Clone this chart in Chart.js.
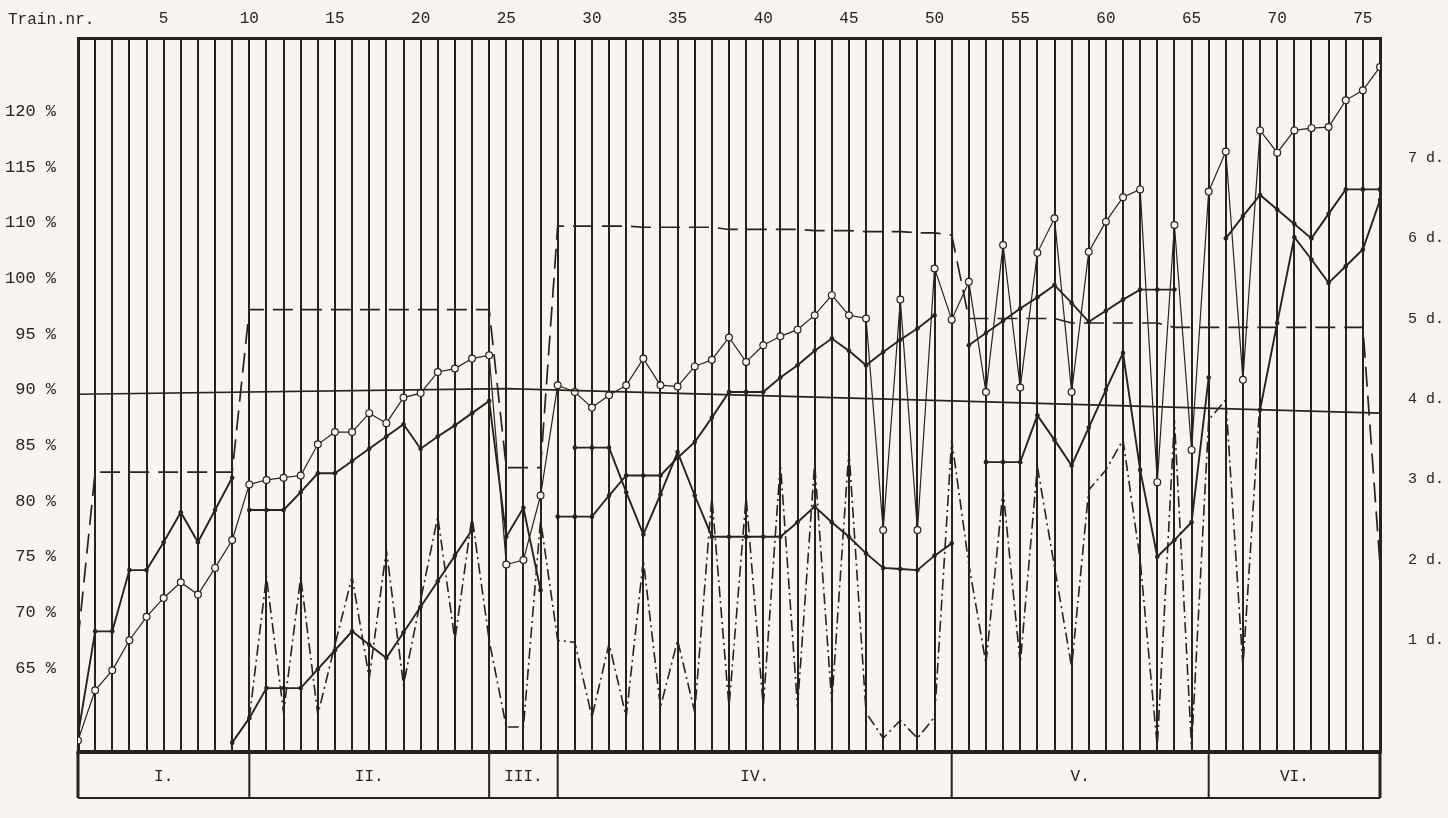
<!DOCTYPE html>
<html>
<head>
<meta charset="utf-8">
<script src="https://cdn.jsdelivr.net/npm/chart.js@4.4.1/dist/chart.umd.min.js"></script>
<style>
  html, body { margin: 0; padding: 0; background: #f8f5f0; }
  #wrap { width: 1448px; height: 818px; }
</style>
</head>
<body>
<div id="wrap"><canvas id="chart" width="1448" height="818"></canvas></div>
<script>
const INK = "#2a211c";
const FONT = "'Liberation Mono', 'DejaVu Sans Mono', monospace";

// left axis: tick positions and the printed labels (the scale jumps 100 -> 110)
const pctTicks = [65, 70, 75, 80, 85, 90, 95, 100, 105, 110, 115];
const pctLabels = ["65 %", "70 %", "75 %", "80 %", "85 %", "90 %", "95 %", "100 %", "110 %", "115 %", "120 %"];
// right axis: days
const dayTicks = [1, 2, 3, 4, 5, 6, 7];

// sections drawn under the grid
const sectionBounds = [0, 10, 24, 28, 51, 66, 76];
const sectionNames = ["I.", "II.", "III.", "IV.", "V.", "VI."];

// the 90 % reference line
const refTrains = [0, 25, 51, 76];
const refValues = [89.6, 90.1, 89.0, 87.9];

// one value per train nr. 0..76, null = no mark
// long dashed line
const targetLine = [
    67.5, 82.6, 82.6, 82.6, 82.6, 82.6, 82.6, 82.6, 82.6, 82.6,
    97.2, 97.2, 97.2, 97.2, 97.2, 97.2, 97.2, 97.2, 97.2, 97.2,
    97.2, 97.2, 97.2, 97.2, 97.2, 83.0, 83.0, 83.0, 104.7, 104.7,
    104.7, 104.7, 104.7, 104.6, 104.6, 104.6, 104.6, 104.6, 104.4, 104.4,
    104.4, 104.4, 104.4, 104.3, 104.3, 104.3, 104.2, 104.2, 104.2, 104.1,
    104.1, 103.9, 96.4, 96.4, 96.4, 96.4, 96.4, 96.4, 96.0, 96.0,
    96.0, 96.0, 96.0, 96.0, 95.6, 95.6, 95.6, 95.6, 95.6, 95.6,
    95.6, 95.6, 95.6, 95.6, 95.6, 95.6, 74.3,
];

// line with open circles
const circleLine = [
    58.5, 63.0, 64.8, 67.5, 69.6, 71.3, 72.7, 71.6, 74.0, 76.5,
    81.5, 81.9, 82.1, 82.3, 85.1, 86.2, 86.2, 87.9, 87.0, 89.3,
    89.7, 91.6, 91.9, 92.8, 93.1, 74.3, 74.7, 80.5, 90.4, 89.8,
    88.4, 89.5, 90.4, 92.8, 90.4, 90.3, 92.1, 92.7, 94.7, 92.5,
    94.0, 94.8, 95.4, 96.7, 98.5, 96.7, 96.4, 77.4, 98.1, 77.4,
    100.9, 96.3, 99.7, 89.8, 103.0, 90.2, 102.3, 105.4, 89.8, 102.4,
    105.1, 107.3, 108.0, 81.7, 104.8, 84.6, 107.8, 111.4, 90.9, 113.3,
    111.3, 113.3, 113.5, 113.6, 116.0, 116.9, 119.0,
];

// upper solid line with dots
const upperLine = [
    59.0, 68.3, 68.3, 73.8, 73.8, 76.3, 79.0, 76.3, 79.2, 82.1,
    79.2, 79.2, 79.2, 80.8, 82.5, 82.5, 83.6, 84.7, 85.8, 86.9,
    84.7, 85.8, 86.8, 87.9, 89.0, 76.8, 79.4, 72.0, 78.6, 78.6,
    78.6, 80.5, 82.3, 82.3, 82.3, 83.9, 85.3, 87.5, 89.8, 89.8,
    89.8, 91.1, 92.2, 93.5, 94.6, 93.5, 92.2, 93.4, 94.5, 95.5,
    96.7, null, 94.0, 95.1, 96.2, 97.3, 98.3, 99.4, 97.8, 96.1,
    97.1, 98.1, 99.0, 99.0, 99.0, null, null, 103.6, 105.6, 107.5,
    106.2, 104.9, 103.6, 105.8, 108.0, 108.0, 108.0,
];
const upperBreaks = [9, 27];

// lower solid line with dots
const lowerLine = [
    null, null, null, null, null, null, null, null, null, 58.3,
    60.5, 63.2, 63.2, 63.2, 64.9, 66.6, 68.3, 67.1, 65.9, 68.2,
    70.5, 72.8, 75.1, 77.4, null, null, null, null, null, 84.8,
    84.8, 84.8, 80.8, 77.0, 80.6, 84.4, 80.5, 76.8, 76.8, 76.8,
    76.8, 76.8, 78.1, 79.5, 78.1, 76.8, 75.3, 74.0, 73.9, 73.8,
    75.1, 76.2, null, 83.5, 83.5, 83.5, 87.7, 85.5, 83.2, 86.6,
    90.0, 93.3, 82.8, 75.0, 76.5, 78.1, 91.1, null, null, 88.2,
    96.0, 103.7, 101.7, 99.6, 101.1, 102.6, 107.05,
];

// dash-dot zigzag
const zigzagLine = [
    null, null, null, null, null, null, null, null, null, null,
    60.5, 73.2, 61.0, 73.2, 60.8, 67.1, 73.2, 64.1, 75.6, 63.5,
    71.1, 78.6, 67.5, 78.6, 67.5, 59.7, 59.7, 78.3, 67.5, 67.3,
    60.6, 67.2, 60.6, 74.7, 61.5, 67.5, 61.05, 80.4, 61.5, 80.4,
    61.5, 83.4, 61.5, 83.4, 61.9, 84.6, 61.0, 58.7, 60.3, 58.7,
    60.6, 85.5, 74.3, 65.4, 81.0, 65.4, 83.1, 74.1, 65.1, 81.0,
    82.8, 85.5, 74.7, 57.9, 87.3, 57.9, 87.3, 89.1, 65.1, 89.1,
    null, null, null, null, null, null, null,
];

function toPoints(values, breaks = []) {
    const pts = [];
    values.forEach((v, i) => {
        pts.push({ x: i, y: v });
        if (breaks.includes(i)) {
            pts.push({ x: i + 0.5, y: null });
        }
    });
    return pts;
}

const sectionPlugin = {
    id: "sections",
    afterDraw(chart) {
        const { ctx, chartArea: a } = chart;
        const x = chart.scales.x;
        const top = a.bottom;
        const bot = a.bottom + 46;
        ctx.save();
        ctx.strokeStyle = INK;
        ctx.fillStyle = INK;
        // heavy bottom edge of the grid
        ctx.lineWidth = 4;
        ctx.beginPath();
        ctx.moveTo(a.left - 1.5, top);
        ctx.lineTo(a.right + 1.5, top);
        ctx.stroke();
        // table of sections
        ctx.lineWidth = 2;
        ctx.beginPath();
        ctx.moveTo(a.left, bot);
        ctx.lineTo(a.right, bot);
        sectionBounds.forEach((b) => {
            const px = x.getPixelForValue(b);
            ctx.moveTo(px, top);
            ctx.lineTo(px, bot);
        });
        ctx.stroke();
        ctx.lineWidth = 3;
        ctx.beginPath();
        ctx.moveTo(a.left, top);
        ctx.lineTo(a.left, bot);
        ctx.moveTo(a.right, top);
        ctx.lineTo(a.right, bot);
        ctx.stroke();
        ctx.font = "16px " + FONT;
        ctx.textAlign = "center";
        ctx.textBaseline = "middle";
        sectionNames.forEach((name, i) => {
            const mid = (x.getPixelForValue(sectionBounds[i]) + x.getPixelForValue(sectionBounds[i + 1])) / 2;
            ctx.fillText(name, mid, (top + bot) / 2 + 2);
        });
        ctx.textAlign = "left";
        ctx.fillText("Train.nr.", a.left - 70, 20);
        ctx.restore();
    },
};

const lineBase = {
    tension: 0,
    spanGaps: false,
    borderColor: INK,
    pointRadius: 0,
    pointHoverRadius: 0,
};

new Chart(document.getElementById("chart"), {
    type: "line",
    data: {
        datasets: [
            {
                ...lineBase,
                label: "90 %",
                data: refTrains.map((t, i) => ({ x: t, y: refValues[i] })),
                borderWidth: 1.6,
            },
            {
                ...lineBase,
                label: "dash-dot",
                data: toPoints(zigzagLine),
                borderWidth: 1.6,
                borderDash: [11, 4, 2, 4],
            },
            {
                ...lineBase,
                label: "target",
                data: toPoints(targetLine),
                borderWidth: 1.7,
                borderDash: [20, 9],
            },
            {
                ...lineBase,
                label: "lower",
                data: toPoints(lowerLine),
                borderWidth: 1.9,
                pointRadius: 2.3,
                pointBackgroundColor: INK,
                pointBorderWidth: 0,
            },
            {
                ...lineBase,
                label: "upper",
                data: toPoints(upperLine, upperBreaks),
                borderWidth: 1.9,
                pointRadius: 2.3,
                pointBackgroundColor: INK,
                pointBorderWidth: 0,
            },
            {
                ...lineBase,
                label: "circles",
                data: toPoints(circleLine),
                borderWidth: 1.2,
                pointRadius: 3.4,
                pointBackgroundColor: "#f8f5f0",
                pointBorderColor: INK,
                pointBorderWidth: 1.2,
            },
        ],
    },
    options: {
        responsive: false,
        animation: false,
        events: [],
        layout: { padding: { top: 0, right: 0, bottom: 66, left: 0 } },
        plugins: {
            legend: { display: false },
            tooltip: { enabled: false },
        },
        scales: {
            x: {
                type: "linear",
                position: "top",
                min: 0,
                max: 76,
                afterFit: (s) => { s.height = 38; },
                grid: { color: INK, lineWidth: 2, drawTicks: false },
                border: { color: INK, width: 3 },
                ticks: {
                    stepSize: 1,
                    maxTicksLimit: 100,
                    autoSkip: false,
                    maxRotation: 0,
                    padding: 10,
                    color: INK,
                    font: { family: FONT, size: 16 },
                    callback: (v) => (v % 5 === 0 && v > 0 && v < 76 ? String(v) : ""),
                },
            },
            y: {
                position: "left",
                min: 57.46,
                max: 121.6,
                afterFit: (s) => { s.width = 78; },
                afterBuildTicks: (s) => { s.ticks = pctTicks.map((v) => ({ value: v })); },
                grid: { display: false },
                border: { color: INK, width: 3 },
                ticks: {
                    padding: 14,
                    color: INK,
                    font: { family: FONT, size: 17 },
                    callback: (v, i) => pctLabels[i],
                },
            },
            y1: {
                position: "right",
                min: -0.389,
                max: 8.49,
                afterFit: (s) => { s.width = 68; },
                afterBuildTicks: (s) => { s.ticks = dayTicks.map((v) => ({ value: v })); },
                grid: { display: false },
                border: { color: INK, width: 3 },
                ticks: {
                    padding: 20,
                    color: INK,
                    font: { family: FONT, size: 15 },
                    callback: (v) => v + " d.",
                },
            },
        },
    },
    plugins: [sectionPlugin],
});
</script>
</body>
</html>
